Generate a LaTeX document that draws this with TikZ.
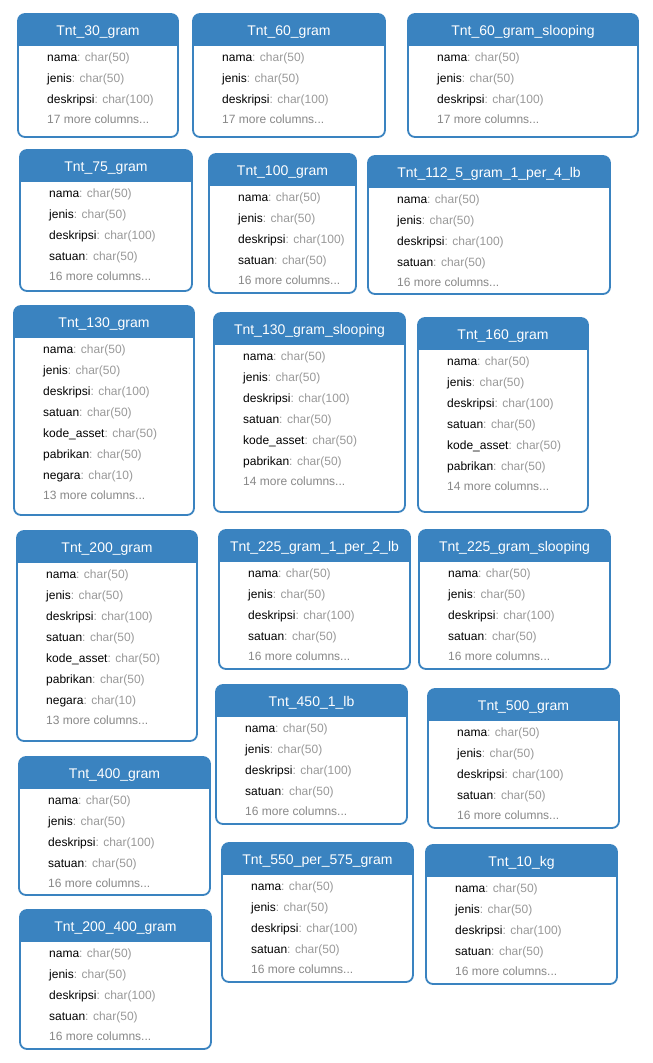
\documentclass[tikz,border=0pt]{standalone}
\usepackage{fontspec}
\setmainfont{Liberation Sans}
\usetikzlibrary{positioning}
\definecolor{tblblue}{RGB}{58,131,192}
\definecolor{typegray}{RGB}{153,153,153}
\definecolor{moregray}{RGB}{136,136,136}

% one table: name, title, left, top, right, bottom, fields, number of fields, hidden columns
\newcommand{\tnttable}[9]{%
  \begin{scope}
    \clip[rounded corners=7pt] (#3,#4) rectangle (#5,#6);
    \fill[tblblue] (#3,#4) rectangle (#5,#4+32);
  \end{scope}
  \draw[tblline] (#3,#4) rectangle (#5,#6);
  \node[tbltitle] (#1) at ({(#3+#5)/2},#4+18) {#2};
  \foreach \fname/\ftype [count=\i] in {#7} {
    \node[tblfield] (#1-\i) at (#3+29,{#4+44.5+20.9*(\i-1)}) {\fname\textcolor{typegray}{: \ftype}};
  }
  \node[tblmore] (#1-more) at (#3+29,{#4+43+20.9*#8}) {#9 more columns...};
}

\begin{document}
\begin{tikzpicture}[
    x=1pt, y=-1pt,
    tblline/.style={draw=tblblue, line width=1.8pt, rounded corners=7pt},
    tbltitle/.style={text=white, inner sep=0pt, font=\fontsize{14}{16}\selectfont},
    tblfield/.style={anchor=west, inner sep=0pt, font=\fontsize{12}{14}\selectfont},
    tblmore/.style={tblfield, text=moregray}
]
\fill[white] (0,0) rectangle (653,1063);
\useasboundingbox (0,0) rectangle (653,1063);

% Row 1
\tnttable{t30}{Tnt\_30\_gram}{18}{14}{178}{137}{nama/char(50), jenis/char(50), deskripsi/char(100)}{3}{17}
\tnttable{t60}{Tnt\_60\_gram}{193}{14}{385}{137}{nama/char(50), jenis/char(50), deskripsi/char(100)}{3}{17}
\tnttable{t60s}{Tnt\_60\_gram\_slooping}{408}{14}{638}{137}{nama/char(50), jenis/char(50), deskripsi/char(100)}{3}{17}

% Row 2
\tnttable{t75}{Tnt\_75\_gram}{20}{150}{192}{291}{nama/char(50), jenis/char(50), deskripsi/char(100), satuan/char(50)}{4}{16}
\tnttable{t100}{Tnt\_100\_gram}{209}{154}{356}{293}{nama/char(50), jenis/char(50), deskripsi/char(100), satuan/char(50)}{4}{16}
\tnttable{t112}{Tnt\_112\_5\_gram\_1\_per\_4\_lb}{368}{156}{610}{294}{nama/char(50), jenis/char(50), deskripsi/char(100), satuan/char(50)}{4}{16}

% Row 3
\tnttable{t130}{Tnt\_130\_gram}{14}{306}{194}{515}{nama/char(50), jenis/char(50), deskripsi/char(100), satuan/char(50), kode\_asset/char(50), pabrikan/char(50), negara/char(10)}{7}{13}
\tnttable{t130s}{Tnt\_130\_gram\_slooping}{214}{313}{405}{512}{nama/char(50), jenis/char(50), deskripsi/char(100), satuan/char(50), kode\_asset/char(50), pabrikan/char(50)}{6}{14}
\tnttable{t160}{Tnt\_160\_gram}{418}{318}{588}{512}{nama/char(50), jenis/char(50), deskripsi/char(100), satuan/char(50), kode\_asset/char(50), pabrikan/char(50)}{6}{14}

% Row 4
\tnttable{t200}{Tnt\_200\_gram}{17}{531}{197}{741}{nama/char(50), jenis/char(50), deskripsi/char(100), satuan/char(50), kode\_asset/char(50), pabrikan/char(50), negara/char(10)}{7}{13}
\tnttable{t225}{Tnt\_225\_gram\_1\_per\_2\_lb}{219}{530}{410}{669}{nama/char(50), jenis/char(50), deskripsi/char(100), satuan/char(50)}{4}{16}
\tnttable{t225s}{Tnt\_225\_gram\_slooping}{419}{530}{610}{669}{nama/char(50), jenis/char(50), deskripsi/char(100), satuan/char(50)}{4}{16}

% Row 5
\tnttable{t450}{Tnt\_450\_1\_lb}{216}{685}{407}{824}{nama/char(50), jenis/char(50), deskripsi/char(100), satuan/char(50)}{4}{16}
\tnttable{t500}{Tnt\_500\_gram}{428}{689}{619}{828}{nama/char(50), jenis/char(50), deskripsi/char(100), satuan/char(50)}{4}{16}
\tnttable{t400}{Tnt\_400\_gram}{19}{757}{210}{895}{nama/char(50), jenis/char(50), deskripsi/char(100), satuan/char(50)}{4}{16}

% Row 6
\tnttable{t550}{Tnt\_550\_per\_575\_gram}{222}{843}{413}{982}{nama/char(50), jenis/char(50), deskripsi/char(100), satuan/char(50)}{4}{16}
\tnttable{t10kg}{Tnt\_10\_kg}{426}{845}{617}{984}{nama/char(50), jenis/char(50), deskripsi/char(100), satuan/char(50)}{4}{16}
\tnttable{t200400}{Tnt\_200\_400\_gram}{20}{910}{211}{1049}{nama/char(50), jenis/char(50), deskripsi/char(100), satuan/char(50)}{4}{16}

\end{tikzpicture}
\end{document}
